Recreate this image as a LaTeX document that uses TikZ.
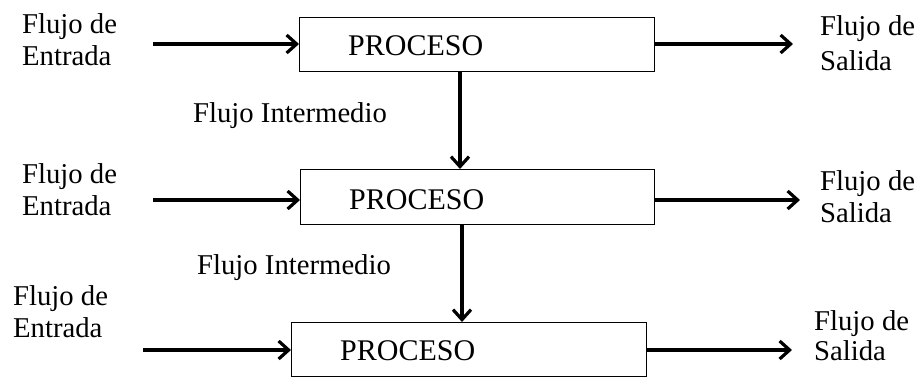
\documentclass[tikz,border=0pt]{standalone}
\usepackage{fontspec}
\setmainfont{Liberation Serif}
\usetikzlibrary{arrows.meta}
\begin{document}
\begin{tikzpicture}[x=1pt,y=-1pt,
  every node/.style={font=\fontsize{28.7}{32}\selectfont, inner sep=0pt},
  procbox/.style={draw, line width=1.2pt, anchor=north west},
  proctext/.style={anchor=base west, font=\fontsize{30}{32}\selectfont},
  lbl/.style={anchor=base west, align=left},
  flow/.style={line width=3.2pt, -{Straight Barb[length=10pt,width=18pt]}}]
  \useasboundingbox (0,0) rectangle (923,383);

  % process boxes
  \node[procbox, minimum width=355pt, minimum height=54pt] (b1) at (299,17) {};
  \node[procbox, minimum width=354pt, minimum height=55pt] (b2) at (300,169) {};
  \node[procbox, minimum width=355pt, minimum height=54pt] (b3) at (291,322) {};
  \node[proctext] (t1) at (348,55) {PROCESO};
  \node[proctext] (t2) at (349,209) {PROCESO};
  \node[proctext] (t3) at (340,360) {PROCESO};

  % input / output labels (anchored on the baseline of their last line)
  \node[lbl] (in1l) at (22,65) {Flujo de\\Entrada};
  \node[lbl] (in2l) at (22,215) {Flujo de\\Entrada};
  \node[lbl] (in3l) at (13,337) {Flujo de\\Entrada};
  \node[lbl] (out1l) at (820,70) {Flujo de\\[3pt]Salida};
  \node[lbl] (out2l) at (820,222) {Flujo de\\Salida};
  \node[lbl] (out3l) at (814,360) {Flujo de\\[-2pt]Salida};

  % intermediate flow labels
  \node[lbl] (m1) at (193,122) {Flujo Intermedio};
  \node[lbl] (m2) at (197,274) {Flujo Intermedio};

  % free ends of the horizontal flows
  \coordinate (in1) at (153,44);
  \coordinate (in2) at (153,200);
  \coordinate (in3) at (143,350);
  \coordinate (out1) at (793,44);
  \coordinate (out2) at (800,200);
  \coordinate (out3) at (792,350);

  \draw[flow] (in1) -- (in1 -| b1.west);
  \draw[flow] (in2) -- (in2 -| b2.west);
  \draw[flow] (in3) -- (in3 -| b3.west);
  \draw[flow] (out1 -| b1.east) -- (out1);
  \draw[flow] (out2 -| b2.east) -- (out2);
  \draw[flow] (out3 -| b3.east) -- (out3);

  % intermediate flows between the boxes
  \path (b1.south west) ++(161,0) coordinate (v1);
  \path (b2.south west) ++(162,0) coordinate (v2);
  \draw[flow] (v1) -- (v1 |- b2.north);
  \draw[flow] (v2) -- (v2 |- b3.north);
\end{tikzpicture}
\end{document}
